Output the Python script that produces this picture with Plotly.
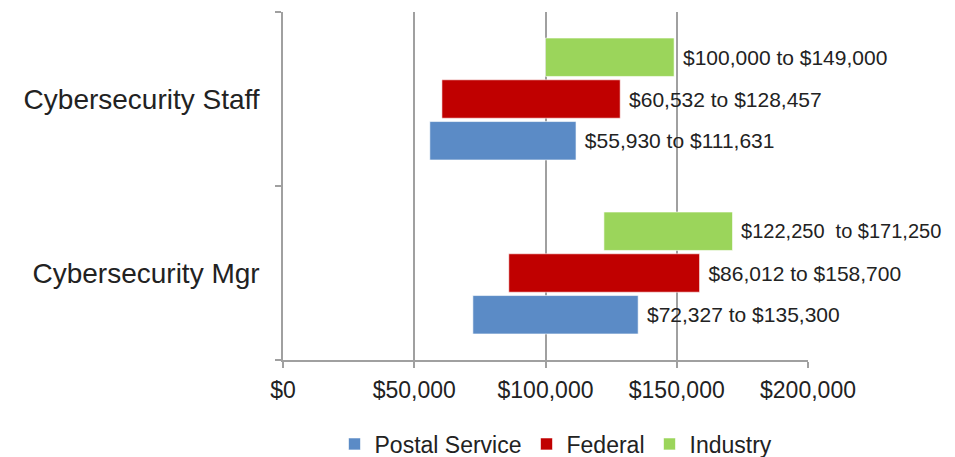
import plotly.graph_objects as go

categories = ["Cybersecurity Mgr", "Cybersecurity Staff"]
series_names = ["Postal Service", "Federal", "Industry"]
low_values = {
    "Postal Service": [72327, 55930],
    "Federal": [86012, 60532],
    "Industry": [122250, 100000],
}
high_values = {
    "Postal Service": [135300, 111631],
    "Federal": [158700, 128457],
    "Industry": [171250, 149000],
}
colors = {"Postal Service": "#5B8BC6", "Federal": "#C00000", "Industry": "#9BD55B"}
x_tickvals = [0, 50000, 100000, 150000, 200000]
x_ticklabels = ["$0", "$50,000", "$100,000", "$150,000", "$200,000"]

FONT = "Liberation Sans, Arial, sans-serif"
W, H = 947, 449  # page body has an 8px default margin

fig = go.Figure()
for name in series_names:
    lo = low_values[name]
    hi = high_values[name]
    labels = []
    sizes = []
    for a, b in zip(lo, hi):
        if a == 122250:
            labels.append(f" ${a:,}  to ${b:,}")
            sizes.append(20)
        else:
            labels.append(f" ${a:,} to ${b:,}")
            sizes.append(21)
    fig.add_trace(go.Bar(
        name=name,
        y=categories,
        x=[b - a for a, b in zip(lo, hi)],
        base=lo,
        orientation="h",
        marker=dict(color=colors[name], line=dict(color="rgba(255,255,255,0.6)", width=1)),
        text=labels,
        textposition="outside",
        cliponaxis=False,
        textfont=dict(size=sizes, color="#222222", family=FONT),
        hoverinfo="skip",
    ))

fig.update_layout(
    width=W, height=H,
    paper_bgcolor="white", plot_bgcolor="white",
    margin=dict(l=275, r=147, t=4, b=97),
    barmode="group",
    bargap=0.28,
    bargroupgap=0.08,
    font=dict(family=FONT, color="#222222"),
    showlegend=True,
    legend=dict(
        orientation="h", x=0.52, xanchor="center",
        yref="container", y=13 / H, yanchor="middle",
        font=dict(size=23, color="#222222", family=FONT), itemwidth=30, tracegroupgap=0,
    ),
    uniformtext=dict(mode=False),
)
fig.update_xaxes(
    range=[0, 200000],
    tickmode="array",
    tickvals=x_tickvals,
    ticktext=x_ticklabels,
    showgrid=True, gridcolor="#A0A0A0", gridwidth=1.5,
    showline=True, linecolor="#A0A0A0", linewidth=1.5,
    ticks="outside", ticklen=6, tickcolor="#A0A0A0", tickwidth=1.5,
    ticklabelstandoff=3,
    tickfont=dict(size=23, color="#222222", family=FONT),
    zeroline=False,
    automargin=False,
    fixedrange=True,
)
fig.update_yaxes(
    showline=True, linecolor="#A0A0A0", linewidth=1.5,
    ticks="outside", ticklen=6, tickcolor="#A0A0A0", tickwidth=1.5,
    tickson="boundaries",
    showgrid=False,
    tickfont=dict(size=28, color="#222222", family=FONT),
    ticklabelstandoff=16,
    automargin=False,
    fixedrange=True,
)

fig.write_html("out.html")
